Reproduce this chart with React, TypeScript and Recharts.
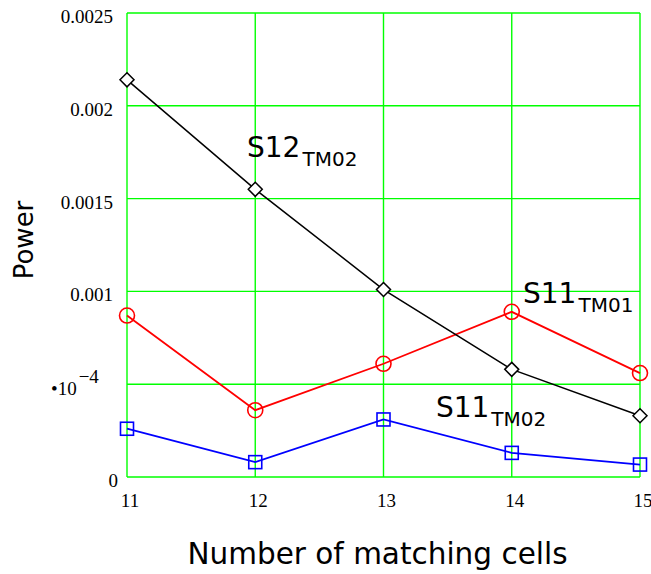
import React from "react";
import {
  LineChart,
  Line,
  XAxis,
  YAxis,
  CartesianGrid,
  ReferenceDot,
  Label,
} from "recharts";

// Number of matching cells
const cells = [11, 12, 13, 14, 15];
// Power levels per mode
const s12Tm02 = [0.00214, 0.00155, 0.00101, 0.00058, 0.00033];
const s11Tm01 = [0.00087, 0.00036, 0.00061, 0.00089, 0.00056];
const s11Tm02 = [0.00026, 0.00008, 0.00031, 0.00013, 0.000067];

const xTicks = [11, 12, 13, 14, 15];
const yTicks = [0, 0.0005, 0.001, 0.0015, 0.002, 0.0025];

// Series annotations: main text, subscript, anchor in data units
const annotations = [
  { main: "S12", sub: "TM02", x: 11.936, y: 0.001724 },
  { main: "S11", sub: "TM01", x: 14.088, y: 0.000938 },
  { main: "S11", sub: "TM02", x: 13.409, y: 0.000323 },
];

const rows = cells.map((n, i) => ({
  n,
  s12: s12Tm02[i],
  s11a: s11Tm01[i],
  s11b: s11Tm02[i],
}));

const SERIF = "'Liberation Serif', 'Times New Roman', serif";
const SANS = "'DejaVu Sans', sans-serif";
const GRID = "#00ff00";

const Diamond = (props: any) => {
  const { cx, cy, index } = props;
  const h = 7;
  return (
    <path
      key={`d-${index}`}
      d={`M${cx},${cy - h}L${cx + h},${cy}L${cx},${cy + h}L${cx - h},${cy}Z`}
      fill="#ffffff"
      stroke="#000000"
      strokeWidth={1.5}
    />
  );
};

const Ring = (props: any) => {
  const { cx, cy, index } = props;
  return (
    <circle
      key={`c-${index}`}
      cx={cx}
      cy={cy}
      r={7.5}
      fill="none"
      stroke="#ff0000"
      strokeWidth={1.6}
    />
  );
};

const Box = (props: any) => {
  const { cx, cy, index } = props;
  const h = 6.5;
  return (
    <rect
      key={`s-${index}`}
      x={cx - h}
      y={cy - h}
      width={2 * h}
      height={2 * h}
      fill="none"
      stroke="#0000ff"
      strokeWidth={1.6}
    />
  );
};

const XTick = (props: any) => {
  const { x, y, payload } = props;
  return (
    <text
      x={x + 3}
      y={y + 30}
      textAnchor="middle"
      fontFamily={SERIF}
      fontSize={19}
      fill="#000"
    >
      {payload.value}
    </text>
  );
};

const YTick = (props: any) => {
  const { x, y, payload } = props;
  const v = payload.value;
  if (v === 0.0005) {
    return (
      <text x={51} y={y + 11} fontFamily={SERIF} fontSize={19} fill="#000">
        •10
        <tspan dx={2} dy={-12}>
          −4
        </tspan>
      </text>
    );
  }
  return (
    <text
      x={v === 0 ? x - 9 : x - 14}
      y={y + 10}
      textAnchor="end"
      fontFamily={SERIF}
      fontSize={19}
      fill="#000"
    >
      {String(v)}
    </text>
  );
};

const Annotation = ({ cx, cy, main, sub }: any) => (
  <text x={cx} y={cy} fontFamily={SANS} fontSize={28} fill="#000">
    {main}
    <tspan fontSize={20} dx={2} dy={9}>
      {sub}
    </tspan>
  </text>
);

export default function App() {
  return (
    <div style={{ position: "absolute", left: 0, top: 0, background: "#fff" }}>
      <LineChart
        width={651}
        height={574}
        data={rows}
        margin={{ top: 13, right: 11, bottom: 0, left: 0 }}
      >
        <CartesianGrid
          stroke={GRID}
          strokeWidth={1.4}
          horizontalValues={yTicks}
          verticalValues={xTicks}
        />
        <XAxis
          dataKey="n"
          type="number"
          domain={[11, 15]}
          ticks={xTicks}
          height={97}
          axisLine={false}
          tickLine={false}
          tickSize={0}
          tickMargin={0}
          tick={<XTick />}
          interval={0}
        >
          <Label
            content={(p: any) => {
              const vb = p.viewBox;
              return (
                <text
                  x={vb.x + vb.width / 2 - 6}
                  y={vb.y + 87}
                  textAnchor="middle"
                  fontFamily={SANS}
                  fontSize={29.5}
                  fill="#000"
                >
                  Number of matching cells
                </text>
              );
            }}
          />
        </XAxis>
        <YAxis
          type="number"
          domain={[0, 0.0025]}
          ticks={yTicks}
          width={127}
          axisLine={false}
          tickLine={false}
          tickSize={0}
          tickMargin={0}
          tick={<YTick />}
          interval={0}
        >
          <Label
            content={(p: any) => {
              const vb = p.viewBox;
              const cx = vb.x + 33;
              const cy = vb.y + vb.height / 2 - 5;
              return (
                <text
                  x={cx}
                  y={cy}
                  transform={`rotate(-90, ${cx}, ${cy})`}
                  textAnchor="middle"
                  fontFamily={SANS}
                  fontSize={26}
                  fill="#000"
                >
                  Power
                </text>
              );
            }}
          />
        </YAxis>
        <Line
          dataKey="s11b"
          stroke="#0000ff"
          strokeWidth={1.8}
          dot={Box}
          activeDot={false}
          isAnimationActive={false}
        />
        <Line
          dataKey="s11a"
          stroke="#ff0000"
          strokeWidth={1.8}
          dot={Ring}
          activeDot={false}
          isAnimationActive={false}
        />
        <Line
          dataKey="s12"
          stroke="#000000"
          strokeWidth={1.5}
          dot={Diamond}
          activeDot={false}
          isAnimationActive={false}
        />
        {annotations.map((a, i) => (
          <ReferenceDot
            key={i}
            x={a.x}
            y={a.y}
            r={0}
            ifOverflow="visible"
            shape={(p: any) => (
              <Annotation cx={p.cx} cy={p.cy} main={a.main} sub={a.sub} />
            )}
          />
        ))}
      </LineChart>
    </div>
  );
}
